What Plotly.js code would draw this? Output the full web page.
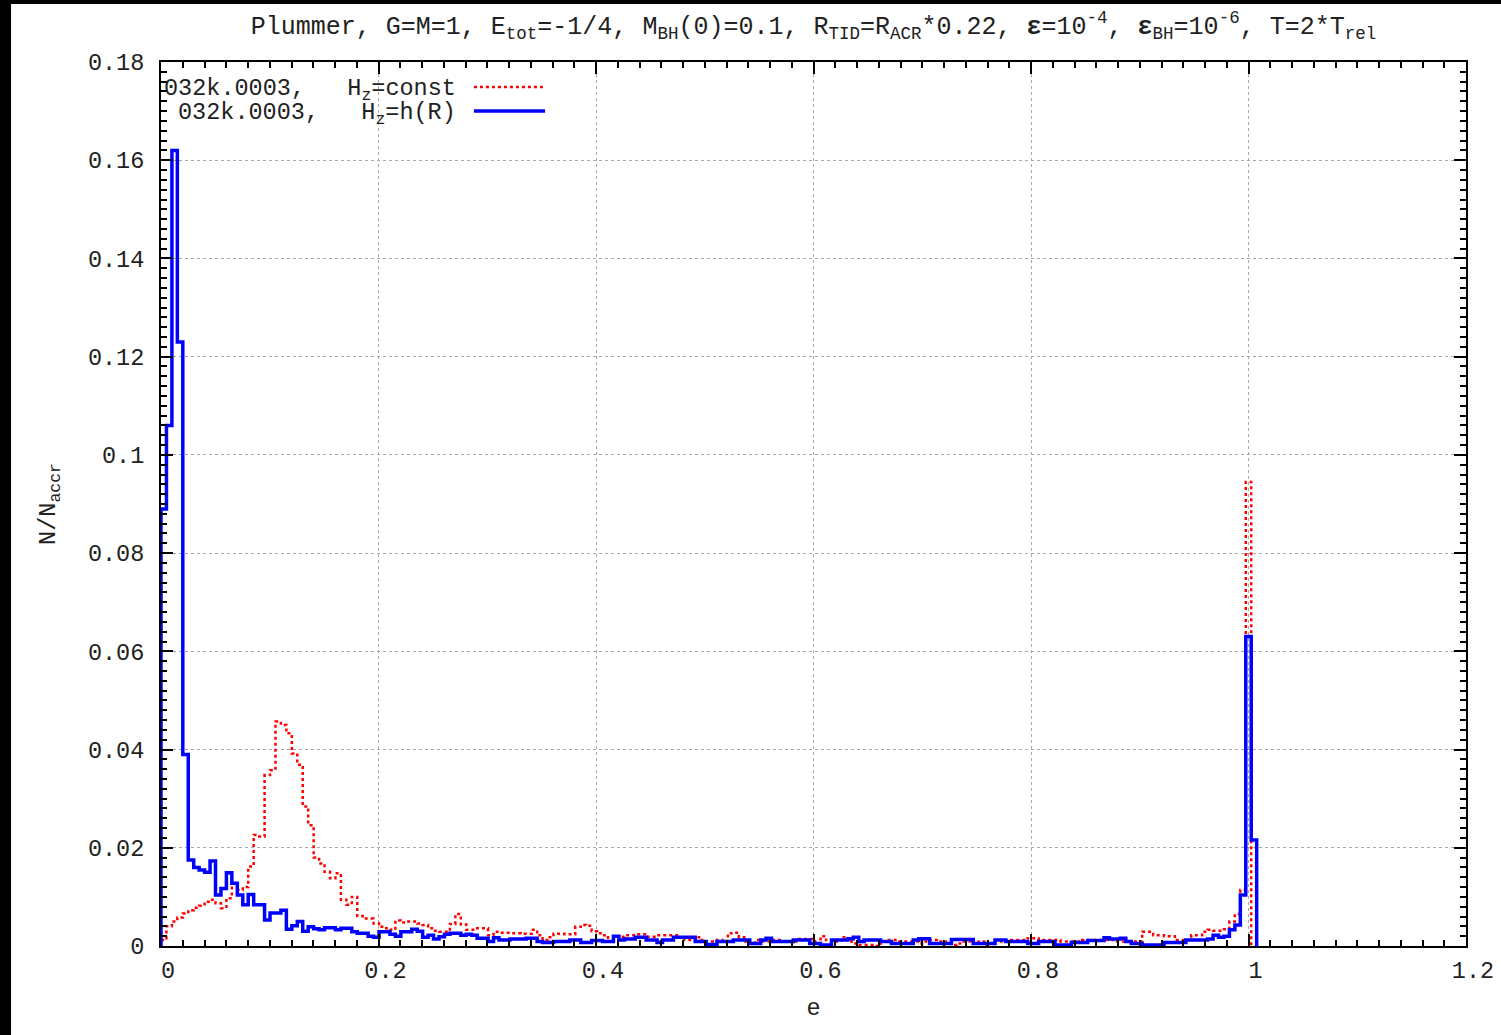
<!DOCTYPE html>
<html><head><meta charset="utf-8">
<script src="https://cdn.plot.ly/plotly-3.0.1.min.js"></script>
<style>body{margin:0;background:#fff}#chart{width:1501px;height:1035px}</style>
</head><body><div id="chart"></div>
<script>
// histogram bin width in e
const binWidth = 0.0050125;

// N/N_accr per bin, H_z = const (red, dotted)
const hzConst = [
0.0012,0.004,0.005,0.0058,0.0066,0.0073,0.0078,0.0082,0.009,0.0094,
0.0087,0.0077,0.0097,0.0128,0.0114,0.012,0.0162,0.0226,0.0223,0.0348,
0.0358,0.0457,0.045,0.0433,0.0392,0.0369,0.0284,0.0246,0.018,0.0168,
0.0151,0.0138,0.0148,0.0094,0.0084,0.01,0.0061,0.0056,0.0056,0.0046,
0.0039,0.0036,0.0033,0.0052,0.0048,0.005,0.005,0.0046,0.0043,0.0036,
0.0031,0.0029,0.0029,0.0045,0.0065,0.0044,0.0033,0.0033,0.0036,0.0036,
0.0022,0.0029,0.0027,0.0027,0.0026,0.0026,0.0025,0.0025,0.0033,0.0022,
0.0012,0.0018,0.0025,0.0025,0.0024,0.0024,0.0039,0.0043,0.0041,0.003,
0.0026,0.0022,0.0009,0.0019,0.0019,0.0022,0.0022,0.0024,0.0024,0.0019,
0.0019,0.0022,0.0022,0.0022,0.0022,0.0018,0.0012,0.0012,0.0018,0.0012,
0.0009,0.0009,0.0012,0.0009,0.0026,0.0027,0.0018,0.0009,0.0005,0.0012,
0.0009,0.0009,0.0012,0.0012,0.0009,0.0009,0.0009,0.0014,0.0014,0.0014,
0.0005,0.002,0.0012,0.0009,0.0012,0.0018,0.0009,0.0005,0.0002,0.0002,
0.0002,0.0,0.0009,0.0012,0.0012,0.0009,0.0009,0.0009,0.0009,0.0005,
0.0009,0.0012,0.0012,0.0009,0.0005,0.0002,0.0005,0.0009,0.0009,0.0005,
0.0009,0.0002,0.0005,0.0009,0.0009,0.0009,0.0012,0.0012,0.0012,0.0016,
0.0016,0.0012,0.0012,0.0012,0.0012,0.0009,0.0009,0.0009,0.0009,0.0012,
0.0012,0.0012,0.0012,0.0012,0.0012,0.0009,0.0009,0.0009,0.0009,0.0009,
0.0029,0.0029,0.0022,0.0022,0.002,0.002,0.0012,0.0012,0.0012,0.0022,
0.0022,0.0029,0.0033,0.0031,0.0031,0.0034,0.005,0.0065,0.0114,0.0945
];

// N/N_accr per bin, H_z = h(R) (blue, solid)
const hzR = [
0.089,0.106,0.162,0.123,0.039,0.0175,0.016,0.0155,0.015,0.0173,
0.0104,0.0117,0.0149,0.0128,0.0104,0.0084,0.0105,0.0084,0.0084,0.0053,
0.0067,0.0067,0.0073,0.0034,0.0041,0.005,0.003,0.0039,0.0035,0.0033,
0.0037,0.0037,0.0033,0.0036,0.0036,0.0029,0.0026,0.0026,0.002,0.0018,
0.0029,0.0029,0.0024,0.002,0.0029,0.0029,0.0034,0.003,0.0018,0.0022,
0.0014,0.0019,0.0024,0.0026,0.0026,0.0022,0.0024,0.0022,0.0016,0.0016,
0.0009,0.0017,0.0012,0.0012,0.0014,0.0014,0.0014,0.0016,0.0016,0.0009,
0.0007,0.0007,0.0009,0.0009,0.0009,0.0012,0.0012,0.0007,0.0007,0.0011,
0.0011,0.0009,0.0009,0.002,0.0012,0.0014,0.0014,0.0018,0.0018,0.0012,
0.0012,0.0007,0.0012,0.0012,0.0018,0.0018,0.0018,0.0018,0.0009,0.0009,
0.0003,0.0003,0.0009,0.0009,0.0009,0.0012,0.0012,0.0012,0.0005,0.0005,
0.0012,0.0016,0.0009,0.0009,0.0009,0.0009,0.0012,0.0012,0.0012,0.0005,
0.0005,0.0002,0.0002,0.0012,0.0012,0.0012,0.0015,0.0018,0.0009,0.0012,
0.0012,0.0012,0.0009,0.0009,0.0005,0.0005,0.0005,0.0005,0.0012,0.0015,
0.0015,0.0005,0.0005,0.0005,0.0005,0.0013,0.0013,0.0013,0.0013,0.0005,
0.0005,0.0005,0.0005,0.0012,0.0012,0.0009,0.0009,0.0009,0.0009,0.0005,
0.0005,0.0009,0.0009,0.0009,0.0002,0.0002,0.0002,0.0007,0.0007,0.0007,
0.0011,0.0011,0.0011,0.0017,0.0014,0.0014,0.0016,0.0009,0.0005,0.0005,
0.0002,0.0002,0.0002,0.0002,0.0007,0.0007,0.0007,0.0007,0.0012,0.0012,
0.0012,0.0012,0.0014,0.0022,0.0018,0.002,0.0033,0.0043,0.0104,0.063,
0.0216
];

const seriesNames = ['032k.0003,\u00a0\u00a0\u00a0H<sub>z</sub>=const', '032k.0003,\u00a0\u00a0\u00a0H<sub>z</sub>=h(R)'];
const titleText = 'Plummer, G=M=1, E<sub>tot</sub>=-1/4, M<sub>BH</sub>(0)=0.1, R<sub>TID</sub>=R<sub>ACR</sub>*0.22, <b>ε</b>=10<sup>-4</sup>, <b>ε</b><sub>BH</sub>=10<sup>-6</sup>, T=2*T<sub>rel</sub>';

function stepX(n){ const xs=[0]; for(let k=0;k<=n;k++) xs.push(k*binWidth); return xs; }
function stepY(v){ return [0].concat(v, [0]); }

const FONT = 'Liberation Mono, Courier New, monospace';
const TXT = '#222';

const traces = [
  {x: stepX(hzConst.length), y: stepY(hzConst), type:'scatter', mode:'lines',
   line:{shape:'hv', color:'#ff0000', width:2.5, dash:'dot'}, name: seriesNames[0], showlegend:false},
  {x: stepX(hzR.length), y: stepY(hzR), type:'scatter', mode:'lines',
   line:{shape:'hv', color:'#0000ff', width:3.5}, name: seriesNames[1], showlegend:false}
];

const axisCommon = {
  ticks:'inside', ticklen:12, tickwidth:2, tickcolor:'#000',
  showline:true, linewidth:2, linecolor:'#000', mirror:'ticks',
  showgrid:true, gridcolor:'#a8a8a8', griddash:'dot', gridwidth:1,
  zeroline:false,
  tickfont:{family:FONT, size:23.5, color:TXT}
};

const layout = {
  width:1501, height:1035,
  paper_bgcolor:'#fff', plot_bgcolor:'#fff',
  margin:{l:161, r:35, t:62, b:89},
  showlegend:false,
  title:{text:titleText, font:{family:FONT, size:25, color:TXT}, xref:'paper', x:0.5, xanchor:'center', yref:'container', y:0.976, yanchor:'middle'},
  xaxis: Object.assign({}, axisCommon, {
    range:[0,1.2], tick0:0, dtick:0.2, ticklabelshift:7, ticklabelstandoff:2,
    minor:{dtick:0.02, ticks:'inside', ticklen:6, tickwidth:2, tickcolor:'#000', showgrid:false},
    title:{text:'e', font:{family:FONT, size:23.5, color:TXT}, standoff:14}
  }),
  yaxis: Object.assign({}, axisCommon, {
    range:[0,0.18], tick0:0, dtick:0.02, ticklabelstandoff:10,
    minor:{dtick:0.002, ticks:'inside', ticklen:6, tickwidth:2, tickcolor:'#000', showgrid:false},
    title:{text:'N/N<sub>accr</sub>', font:{family:FONT, size:23.5, color:TXT}, standoff:26}
  }),
  annotations:[
    {xref:'paper', yref:'paper', x:0.2276, y:0.9683, xanchor:'right', yanchor:'middle', showarrow:false,
     text:seriesNames[0], font:{family:FONT, size:23.5, color:TXT}},
    {xref:'paper', yref:'paper', x:0.2276, y:0.9412, xanchor:'right', yanchor:'middle', showarrow:false,
     text:seriesNames[1], font:{family:FONT, size:23.5, color:TXT}}
  ],
  shapes:[
    {type:'line', xref:'paper', yref:'paper', x0:0.2398, x1:0.2943, y0:0.9717, y1:0.9717, line:{color:'#ff0000', width:2.5, dash:'dot'}},
    {type:'line', xref:'paper', yref:'paper', x0:0.2398, x1:0.2943, y0:0.9446, y1:0.9446, line:{color:'#0000ff', width:3.5}},
    {type:'rect', xref:'paper', yref:'paper', x0:-0.125, x1:-0.1149, y0:-0.12, y1:1.08, line:{width:0}, fillcolor:'#000'},
    {type:'rect', xref:'paper', yref:'paper', x0:-0.125, x1:1.03, y0:1.0656, y1:1.08, line:{width:0}, fillcolor:'#000'}
  ]
};

Plotly.newPlot('chart', traces, layout, {displayModeBar:false, staticPlot:true});
</script>
</body></html>
